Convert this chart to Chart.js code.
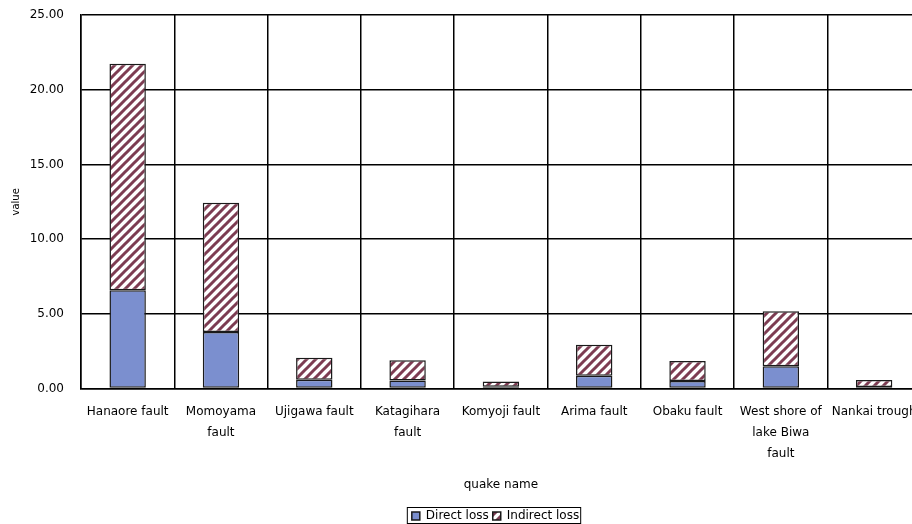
<!DOCTYPE html>
<html>
<head>
<meta charset="utf-8">
<script src="https://cdn.jsdelivr.net/npm/chart.js@4/dist/chart.umd.min.js"></script>
<style>
  html, body { margin: 0; padding: 0; background: #fff; overflow: hidden; }
  #wrap { position: absolute; left: 0; top: 0; width: 930px; height: 532px; }
</style>
</head>
<body>
<div id="wrap"><canvas id="grafico" width="930" height="532"></canvas></div>
<script>
// dados
const categorias = [
  "Hanaore fault",
  ["Momoyama", "fault"],
  "Ujigawa fault",
  ["Katagihara", "fault"],
  "Komyoji fault",
  "Arima fault",
  "Obaku fault",
  ["West shore of", "lake Biwa", "fault"],
  "Nankai trough"
];
const perdaDireta = [6.58, 3.79, 0.6, 0.55, 0.12, 0.86, 0.51, 1.5, 0.1];
const perdaIndireta = [15.16, 8.64, 1.46, 1.35, 0.35, 2.07, 1.33, 3.67, 0.48];
const ticksY = [0, 5, 10, 15, 20, 25];

// padrão listrado para a perda indireta
function listras() {
  const c = document.createElement("canvas");
  c.width = 9;
  c.height = 9;
  const g = c.getContext("2d");
  g.fillStyle = "#ffffff";
  g.fillRect(0, 0, 9, 9);
  g.strokeStyle = "#7d3c52";
  g.lineWidth = 3;
  g.beginPath();
  g.moveTo(-1, 10); g.lineTo(10, -1);
  g.moveTo(-5.5, 5.5); g.lineTo(5.5, -5.5);
  g.moveTo(3.5, 14.5); g.lineTo(14.5, 3.5);
  g.stroke();
  return g.createPattern(c, "repeat");
}

const fonte = "'DejaVu Sans', sans-serif";
const deslocLegenda = 30; // legenda um pouco à direita, como no original

// moldura em volta da legenda (e empurra a legenda pra direita)
const molduraLegenda = {
  id: "molduraLegenda",
  afterLayout(chart) {
    const lg = chart.legend;
    if (!lg) return;
    lg.left += deslocLegenda;
    lg.right += deslocLegenda;
    lg.legendHitBoxes.forEach((h) => { h.left += deslocLegenda; });
  },
  afterDraw(chart) {
    const lg = chart.legend;
    if (!lg || !lg.legendHitBoxes.length) return;
    const first = lg.legendHitBoxes[0];
    const last = lg.legendHitBoxes[lg.legendHitBoxes.length - 1];
    const ctx = chart.ctx;
    ctx.save();
    ctx.strokeStyle = "#000";
    ctx.lineWidth = 1;
    ctx.strokeRect(first.left - 4.5, first.top - 2.5, last.left + last.width - first.left + 6, first.height + 4);
    ctx.restore();
  }
};

const ctx = document.getElementById("grafico");

new Chart(ctx, {
  type: "bar",
  data: {
    labels: categorias,
    datasets: [
      {
        label: "Direct loss",
        data: perdaDireta,
        backgroundColor: "#7b8fcf",
        borderColor: "#1a1a1a",
        borderWidth: 1.5,
        borderSkipped: false,
        categoryPercentage: 1,
        barPercentage: 0.39
      },
      {
        label: "Indirect loss",
        data: perdaIndireta,
        backgroundColor: listras(),
        borderColor: "#1a1a1a",
        borderWidth: 1.5,
        borderSkipped: false,
        categoryPercentage: 1,
        barPercentage: 0.39
      }
    ]
  },
  options: {
    responsive: false,
    animation: false,
    layout: { padding: { left: 10, right: 9, top: 15, bottom: 0 } },
    plugins: {
      legend: {
        position: "bottom",
        labels: {
          color: "#000",
          font: { family: fonte, size: 12 },
          boxWidth: 8,
          boxHeight: 8,
          padding: 4
        }
      },
      tooltip: { enabled: false }
    },
    scales: {
      x: {
        stacked: true,
        offset: true,
        grid: { display: true, offset: true, color: "#000", lineWidth: 1.5, drawTicks: false },
        border: { display: true, color: "#000", width: 1.5 },
        ticks: {
          color: "#000",
          font: { family: fonte, size: 12, lineHeight: 1.75 },
          maxRotation: 0,
          autoSkip: false,
          padding: 13
        },
        title: {
          display: true,
          text: "quake name",
          color: "#000",
          font: { family: fonte, size: 12 },
          padding: { top: 0, bottom: 14 }
        }
      },
      y: {
        stacked: true,
        min: 0,
        max: 25,
        afterBuildTicks: (s) => { s.ticks = ticksY.map((v) => ({ value: v })); },
        afterFit: (s) => { s.width = 71; },
        grid: { color: "#000", lineWidth: 1.5, drawTicks: true, tickLength: 17, tickColor: "rgba(0,0,0,0)" },
        border: { display: true, color: "#000", width: 1.5 },
        ticks: {
          color: "#000",
          font: { family: fonte, size: 12 },
          padding: 0,
          callback: (v) => Number(v).toFixed(2)
        },
        title: {
          display: true,
          text: "value",
          color: "#000",
          font: { family: fonte, size: 10 },
          padding: 0
        }
      }
    }
  },
  plugins: [molduraLegenda]
});
</script>
</body>
</html>
